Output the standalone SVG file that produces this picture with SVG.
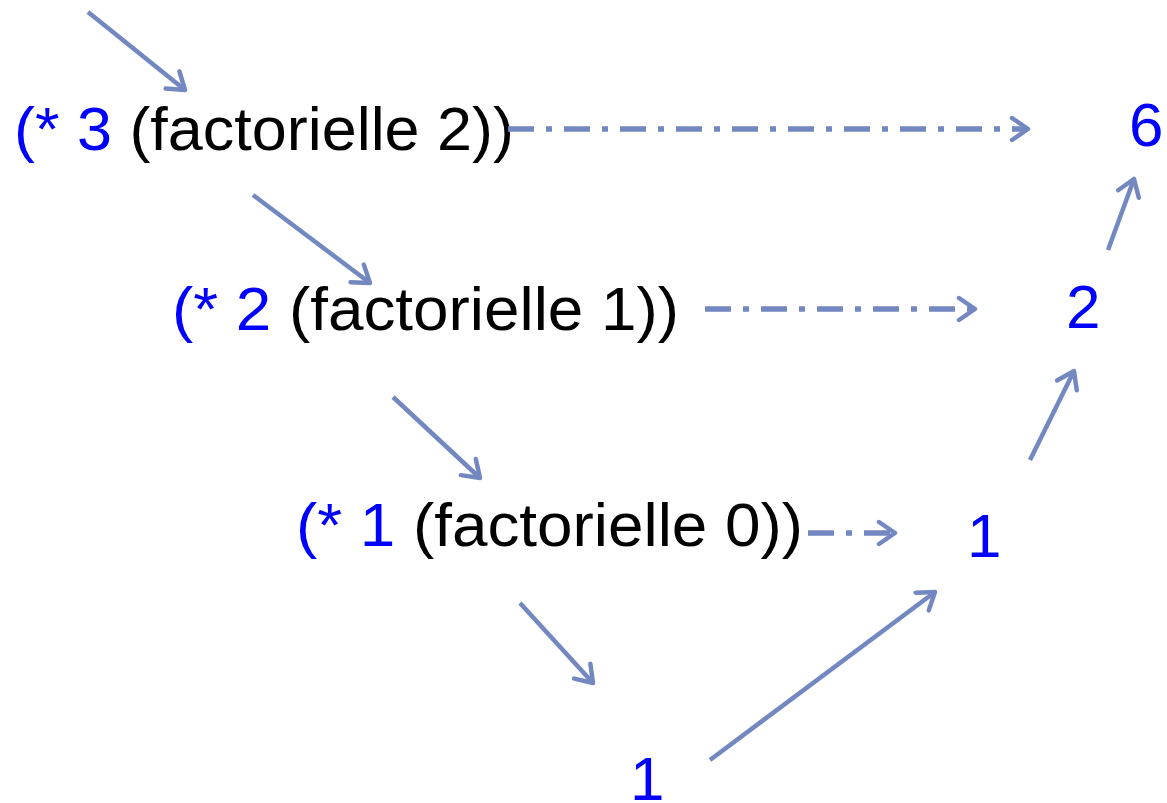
<svg xmlns="http://www.w3.org/2000/svg" width="1167" height="803" viewBox="0 0 1167 803">
<style>
.t{font-family:"Liberation Sans",Arial,sans-serif;font-size:62px}
.b{fill:#0000ff}
.k{fill:#000}
.c{stroke:#7388c0;stroke-width:4.5;fill:none;marker-end:url(#ah)}
.d{stroke-width:5.5;stroke-dasharray:26 12 6 12}
</style>
<defs>
<marker id="ah" markerUnits="userSpaceOnUse" viewBox="0 0 22 28" refX="19" refY="14" markerWidth="22" markerHeight="28" orient="auto">
<path d="M3,3 L19,14 L3,25" fill="none" stroke="#7388c0" stroke-width="4.5" stroke-linecap="round" stroke-linejoin="round"/>
</marker>
</defs>
<g id="n1"><text class="t" x="14" y="150" textLength="500" lengthAdjust="spacingAndGlyphs"><tspan class="b">(* 3 </tspan><tspan class="k">(factorielle 2))</tspan></text></g>
<g id="n2"><text class="t" x="172" y="330" textLength="507" lengthAdjust="spacingAndGlyphs"><tspan class="b">(* 2 </tspan><tspan class="k">(factorielle 1))</tspan></text></g>
<g id="n3"><text class="t" x="296" y="546" textLength="507" lengthAdjust="spacingAndGlyphs"><tspan class="b">(* 1 </tspan><tspan class="k">(factorielle 0))</tspan></text></g>
<g id="r6"><text class="t b" x="1129" y="146">6</text></g>
<g id="r2"><text class="t b" x="1066" y="328">2</text></g>
<g id="r1"><text class="t b" x="967" y="557">1</text></g>
<g id="r1b"><text class="t b" x="630" y="800">1</text></g>
<g id="connectors">
<line class="c" x1="88" y1="12" x2="185" y2="90"/>
<line class="c" x1="253" y1="195" x2="370" y2="283"/>
<line class="c" x1="393" y1="397" x2="480" y2="478"/>
<line class="c" x1="520" y1="603" x2="593" y2="683"/>
<line class="c" x1="710" y1="760" x2="935" y2="592"/>
<line class="c" x1="1030" y1="460" x2="1074" y2="371"/>
<line class="c" x1="1108" y1="250" x2="1134" y2="179"/>
<line class="c d" x1="508" y1="129" x2="1028" y2="129"/>
<line class="c d" x1="705" y1="309" x2="975" y2="309"/>
<line class="c d" x1="808" y1="533" x2="895" y2="533"/>
</g>
</svg>
